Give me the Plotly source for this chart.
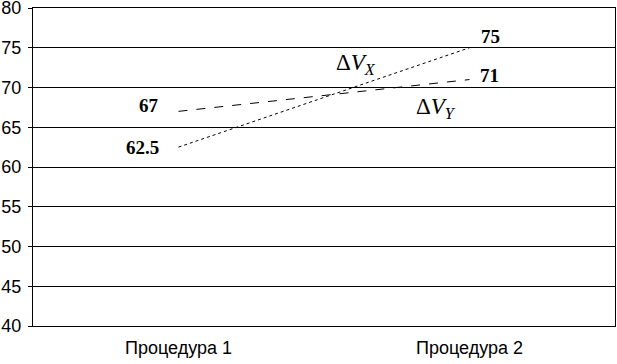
import plotly.graph_objects as go

categories = ["Процедура 1", "Процедура 2"]
dvx = [62.5, 75]
dvy = [67, 71]
y_ticks = [40, 45, 50, 55, 60, 65, 70, 75, 80]

fig = go.Figure()
fig.add_trace(go.Scatter(x=categories, y=dvx, mode="lines",
                         line=dict(color="black", width=1, dash="dot"), showlegend=False))
fig.add_trace(go.Scatter(x=categories, y=dvy, mode="lines",
                         line=dict(color="black", width=1, dash="dash"), showlegend=False))

serif = "Liberation Serif, Times New Roman, serif"
lab_font = dict(family=serif, size=19, color="black")
ann = []
# (category index, value, xshift, yshift)
for xi, yv, xs, ys in [(0, dvy[0], -30, 6), (0, dvx[0], -36, 0),
                       (1, dvx[1], 21, 11), (1, dvy[1], 20, 4)]:
    ann.append(dict(x=categories[xi], y=yv, text="<b>%g</b>" % yv, showarrow=False,
                    xshift=xs, yshift=ys, font=lab_font))
ann.append(dict(x=0.61, y=72.95, xref="x", yref="y", text="Δ<i>V</i><sub><i>X</i></sub>",
                showarrow=False, font=dict(family=serif, size=23, color="black")))
ann.append(dict(x=0.885, y=67.45, xref="x", yref="y", text="Δ<i>V</i><sub><i>Y</i></sub>",
                showarrow=False, font=dict(family=serif, size=23, color="black")))
fig.update_layout(annotations=ann)

# small downward tick extensions at both ends of the category axis
for xp in (0, 1):
    fig.add_shape(type="line", xref="paper", yref="y", x0=xp, x1=xp, y0=40, y1=39.5,
                  line=dict(color="black", width=1))

fig.update_layout(
    width=617, height=364,
    margin=dict(l=33, r=2, t=8, b=38),
    paper_bgcolor="white", plot_bgcolor="white",
    font=dict(family="Liberation Sans, Arial, sans-serif", size=16, color="black"),
    xaxis=dict(type="category", range=[-0.5, 1.5], showgrid=False, showline=True,
               linecolor="black", linewidth=1, mirror=True, ticks="", zeroline=False,
               automargin=False, ticklabelstandoff=5, tickfont=dict(size=18)),
    yaxis=dict(range=[40, 80], tickvals=y_ticks, showgrid=True, gridcolor="black",
               gridwidth=1, showline=True, linecolor="black", linewidth=1, mirror=True,
               ticks="outside", ticklen=4, tickcolor="black", zeroline=False,
               automargin=False, ticklabelstandoff=3, ticklabeloverflow="allow",
               tickfont=dict(size=18)),
)
fig.write_html("out.html", config={"displayModeBar": False},
               post_script="document.body.style.margin='0';")
